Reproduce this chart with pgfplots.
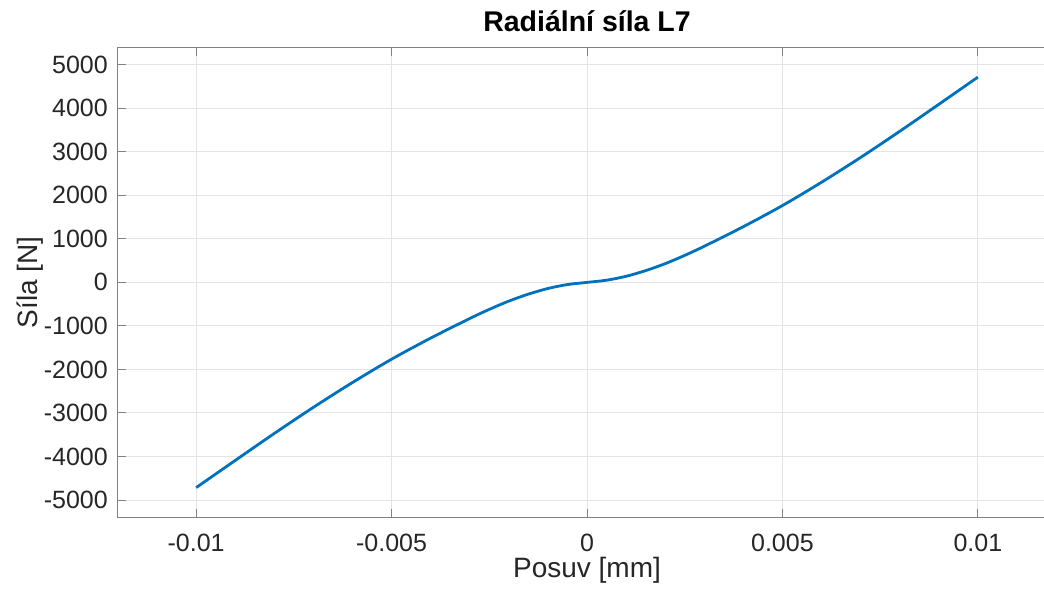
\documentclass[border=0pt]{standalone}
\usepackage{fontspec}
\setmainfont{Liberation Sans}
\usepackage{pgfplots}
\pgfplotsset{compat=1.18}
\definecolor{mblue}{RGB}{0,114,189}
\definecolor{txt}{RGB}{38,38,38}
\definecolor{spine}{RGB}{130,130,130}
\definecolor{gridc}{RGB}{228,228,228}
\begin{document}
\begin{tikzpicture}[x=1pt,y=1pt]
\begin{axis}[
  name=ax,
  at={(0,0)}, anchor=south west,
  scale only axis,
  width=938pt, height=469pt,
  xmin=-0.012, xmax=0.012,
  ymin=-5390, ymax=5385,
  xtick={-0.01,-0.005,0,0.005,0.01},
  xticklabels={-0.01,-0.005,0,0.005,0.01},
  ytick={-5000,-4000,-3000,-2000,-1000,0,1000,2000,3000,4000,5000},
  yticklabels={-5000,-4000,-3000,-2000,-1000,0,1000,2000,3000,4000,5000},
  scaled x ticks=false, scaled y ticks=false,
  grid=major,
  major grid style={gridc, line width=1pt},
  axis line style={spine, line width=1pt},
  tick style={spine, line width=1pt},
  tick align=inside,
  major tick length=8pt,
  xtick pos=both, ytick pos=left,
  xticklabel style={anchor=north, inner sep=0pt, yshift=-17pt, font=\fontsize{25}{30}\selectfont, text=txt},
  yticklabel style={anchor=east, inner sep=0pt, xshift=-10pt, font=\fontsize{25}{30}\selectfont, text=txt},
  xlabel={Posuv [mm]},
  ylabel={Síla [N]},
  title={Radiální síla L7},
  every axis x label/.style={at={(axis description cs:0.5,0)}, anchor=base, yshift=-60pt, inner sep=0pt, font=\fontsize{28}{34}\selectfont, text=txt},
  every axis y label/.style={at={(axis description cs:-0.0853,0.5)}, rotate=90, anchor=base, inner sep=0pt, font=\fontsize{28}{34}\selectfont, text=txt},
  title style={at={(axis description cs:0.5,1)}, anchor=base, yshift=10pt, inner sep=0pt, font=\bfseries\fontsize{28.5}{34}\selectfont, text=black},
  clip=false,
]
\addplot[mblue, line width=2.8pt, smooth, tension=0.5] coordinates {
(-0.010,-4715) (-0.009,-4090) (-0.008,-3470) (-0.007,-2870) (-0.006,-2300)
(-0.005,-1765) (-0.004,-1280) (-0.003,-830) (-0.0025,-620) (-0.002,-430) (-0.0015,-270) (-0.001,-140) (-0.0005,-50)
(0,0)
(0.0005,50) (0.001,140) (0.0015,270) (0.002,430) (0.0025,620) (0.003,830) (0.004,1280) (0.005,1765)
(0.006,2300) (0.007,2870) (0.008,3470) (0.009,4090) (0.010,4715)
};
\end{axis}
\pgfresetboundingbox
\useasboundingbox (-118,-75) rectangle (926,517);
\end{tikzpicture}
\end{document}
